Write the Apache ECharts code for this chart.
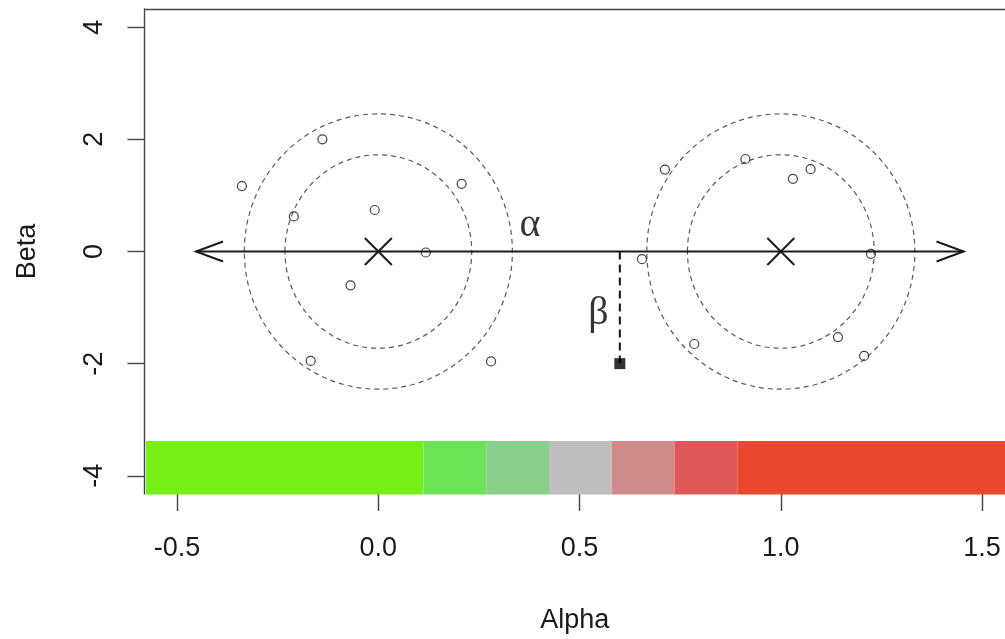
<!DOCTYPE html>
<html>
<head>
<meta charset="utf-8">
<script src="https://cdn.jsdelivr.net/npm/echarts@6/dist/echarts.min.js"></script>
<style>
html,body{margin:0;padding:0;background:#fff;}
#chart{width:1005px;height:639px;}
</style>
</head>
<body>
<div id="chart"></div>
<script>
// ---- data ----
const pointX = [-0.339, -0.139, -0.210, -0.009, 0.207, 0.118, -0.069, -0.168, 0.280,
                0.712, 0.912, 1.030, 1.074, 0.655, 1.224, 0.785, 1.142, 1.207];
const pointY = [1.166, 2.000, 0.626, 0.740, 1.207, -0.018, -0.603, -1.952, -1.961,
                1.461, 1.650, 1.296, 1.468, -0.137, -0.041, -1.650, -1.526, -1.863];
const centerX = [0, 1];
const centerY = [0, 0];
const ringRx = [0.232, 0.333];
const ringRy = [1.725, 2.455];
const arrowFrom = -0.453;
const arrowTo = 1.454;
const arrowY = 0;
const betaX = 0.6;
const betaTop = 0;
const betaBottom = -2;
const noteText = ['α', 'β'];
const noteX = [0.377, 0.547];
const noteY = [0.46, -1.10];
const barStarts = [-0.65, 0.112, 0.268, 0.424, 0.580, 0.736, 0.892];
const barEnds   = [0.112, 0.268, 0.424, 0.580, 0.736, 0.892, 1.70];
const barColors = ['#76EF16', '#6CE257', '#89CF8A', '#BEBEBE', '#CF8A8A', '#E05757', '#EB4830'];
const barTop = -3.38;
const barBottom = -4.6;
const xTicks = [-0.5, 0, 0.5, 1, 1.5];
const yTicks = [-4, -2, 0, 2, 4];
const xMin = -0.581, xMax = 1.557, yMin = -4.325, yMax = 4.325;

// ---- build series data ----
const pointData = pointX.map((x, i) => [x, pointY[i]]);
const centerData = centerX.map((x, i) => [x, centerY[i]]);
const ringData = [];
centerX.forEach((cx, i) => {
  ringRx.forEach((rx, j) => ringData.push([cx, centerY[i], rx, ringRy[j]]));
});
const barData = barStarts.map((s, i) => [s, barEnds[i], barTop, barBottom]);
const noteData = noteText.map((t, i) => ({name: t, value: [noteX[i], noteY[i]]}));

const textFont = "'Liberation Sans', Arial, Helvetica, sans-serif";
const axisColor = '#444';

const chart = echarts.init(document.getElementById('chart'), null, {renderer: 'canvas'});
chart.setOption({
  animation: false,
  backgroundColor: '#fff',
  grid: {left: 144.5, right: 0, top: 9, bottom: 141.5, containLabel: false},
  xAxis: [{
    type: 'value', min: xMin, max: xMax, position: 'bottom',
    name: 'Alpha', nameLocation: 'middle', nameGap: 113,
    nameTextStyle: {fontFamily: textFont, fontSize: 27, color: '#1a1a1a'},
    axisLine: {show: false, onZero: false},
    axisTick: {show: true, customValues: xTicks, length: 17, lineStyle: {color: axisColor, width: 1.4}},
    axisLabel: {show: true, customValues: xTicks, margin: 55, verticalAlign: 'middle',
      fontFamily: textFont, fontSize: 27, color: '#1a1a1a',
      formatter: v => v.toFixed(1)},
    splitLine: {show: false}
  }, {
    type: 'value', min: xMin, max: xMax, position: 'top',
    axisLine: {show: true, onZero: false, lineStyle: {color: axisColor, width: 1.4}},
    axisTick: {show: false}, axisLabel: {show: false}, splitLine: {show: false}
  }],
  yAxis: {
    type: 'value', min: yMin, max: yMax, position: 'left',
    name: 'Beta', nameLocation: 'middle', nameGap: 103, nameRotate: 90,
    nameTextStyle: {fontFamily: textFont, fontSize: 27, color: '#1a1a1a'},
    axisLine: {show: true, onZero: false, lineStyle: {color: axisColor, width: 1.4}},
    axisTick: {show: true, customValues: yTicks, length: 17, lineStyle: {color: axisColor, width: 1.4}},
    axisLabel: {show: true, customValues: yTicks, rotate: 90, margin: 50, align: 'center', verticalAlign: 'middle',
      fontFamily: textFont, fontSize: 27, color: '#1a1a1a',
      formatter: v => String(v)},
    splitLine: {show: false}
  },
  series: [
    { // colour bar
      type: 'custom', z: 1, encode: {x: [0, 1], y: [2, 3]},
      data: barData,
      renderItem: (params, api) => {
        const p0 = api.coord([api.value(0), api.value(2)]);
        const p1 = api.coord([api.value(1), api.value(3)]);
        const cs = params.coordSys;
        const r = echarts.graphic.clipRectByRect(
          {x: p0[0], y: p0[1], width: p1[0] - p0[0], height: p1[1] - p0[1]},
          {x: cs.x + 1.5, y: cs.y, width: cs.width, height: cs.height + 0.5});
        if (!r) return null;
        return {type: 'rect', shape: r, style: {fill: barColors[params.dataIndex]}};
      }
    },
    { // dashed ellipses
      type: 'custom', z: 2, encode: {x: 0, y: 1},
      data: ringData,
      renderItem: (params, api) => {
        const c = api.coord([api.value(0), api.value(1)]);
        const s = api.size([api.value(2), api.value(3)]);
        return {type: 'ellipse', shape: {cx: c[0], cy: c[1], rx: s[0], ry: s[1]},
          style: {fill: null, stroke: '#5a5a5a', lineWidth: 1.2, lineDash: [5, 4]}};
      }
    },
    { // double arrow
      type: 'custom', z: 3, encode: {x: [0, 1], y: 2},
      data: [[arrowFrom, arrowTo, arrowY]],
      renderItem: (params, api) => {
        const a = api.coord([api.value(0), api.value(2)]);
        const b = api.coord([api.value(1), api.value(2)]);
        const st = {stroke: '#1a1a1a', lineWidth: 2, fill: null};
        return {type: 'group', children: [
          {type: 'line', shape: {x1: a[0], y1: a[1], x2: b[0], y2: b[1]}, style: st},
          {type: 'polyline', shape: {points: [[a[0] + 27, a[1] - 10], a, [a[0] + 27, a[1] + 10]]}, style: st},
          {type: 'polyline', shape: {points: [[b[0] - 27, b[1] - 10], b, [b[0] - 27, b[1] + 10]]}, style: st}
        ]};
      }
    },
    { // beta dashed segment
      type: 'custom', z: 3, encode: {x: 0, y: [1, 2]},
      data: [[betaX, betaTop, betaBottom]],
      renderItem: (params, api) => {
        const a = api.coord([api.value(0), api.value(1)]);
        const b = api.coord([api.value(0), api.value(2)]);
        return {type: 'line', shape: {x1: a[0], y1: a[1], x2: b[0], y2: b[1]},
          style: {stroke: '#111', lineWidth: 2, lineDash: [8, 5]}};
      }
    },
    { // beta end square
      type: 'scatter', z: 4, symbol: 'rect', symbolSize: 11,
      data: [[betaX, betaBottom]],
      itemStyle: {color: '#000'}
    },
    { // observations
      type: 'scatter', z: 4, symbol: 'circle', symbolSize: 9,
      data: pointData,
      itemStyle: {color: 'rgba(0,0,0,0)', borderColor: '#111', borderWidth: 1.2}
    },
    { // cluster centres (X marks)
      type: 'custom', z: 5, encode: {x: 0, y: 1},
      data: centerData,
      renderItem: (params, api) => {
        const c = api.coord([api.value(0), api.value(1)]);
        const h = 13.5;
        const st = {stroke: '#1a1a1a', lineWidth: 2};
        return {type: 'group', children: [
          {type: 'line', shape: {x1: c[0] - h, y1: c[1] - h, x2: c[0] + h, y2: c[1] + h}, style: st},
          {type: 'line', shape: {x1: c[0] - h, y1: c[1] + h, x2: c[0] + h, y2: c[1] - h}, style: st}
        ]};
      }
    },
    { // greek annotations
      type: 'scatter', z: 6, symbolSize: 0,
      data: noteData,
      label: {show: true, position: 'inside', formatter: p => p.name,
        fontFamily: "'Liberation Serif', 'DejaVu Serif', serif", fontSize: 40, color: '#000'}
    }
  ]
});
</script>
</body>
</html>
